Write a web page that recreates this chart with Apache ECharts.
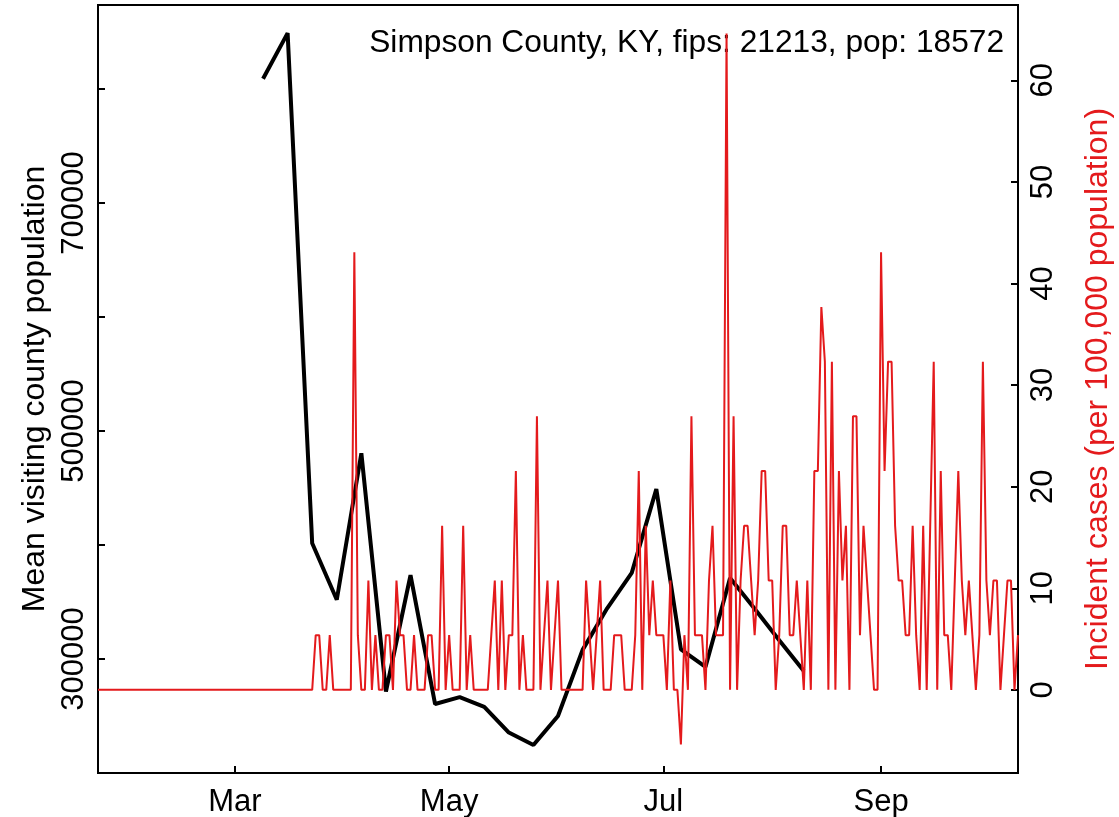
<!DOCTYPE html>
<html>
<head>
<meta charset="utf-8">
<script src="https://cdn.jsdelivr.net/npm/echarts@6/dist/echarts.min.js"></script>
<style>
html,body{margin:0;padding:0;background:#fff;}
#c{width:1119px;height:817px;}
</style>
</head>
<body>
<div id="c"></div>
<script>
// ---- data ----
const titleText = 'Simpson County, KY, fips: 21213, pop: 18572';
const countyPop = 18572;
const seriesStart = '2020-01-22';

// weekly mean visiting county population (black line)
const weekDates = ['2020-03-09','2020-03-16','2020-03-23','2020-03-30','2020-04-06','2020-04-13',
  '2020-04-20','2020-04-27','2020-05-04','2020-05-11','2020-05-18','2020-05-25','2020-06-01',
  '2020-06-08','2020-06-15','2020-06-22','2020-06-29','2020-07-06','2020-07-13','2020-07-20',
  '2020-07-27','2020-08-03','2020-08-10'];
const visitingPop = [809000, 849000, 401500, 352000, 480500, 271500, 373500, 260500, 266500,
  258000, 235500, 224500, 250000, 308000, 344500, 375500, 449000, 308500, 293000, 371000,
  344000, 316500, 289500];

// daily incident cases (counts), one per day from seriesStart
const dailyCases = [
  0,0,0,0,0,0,0,0,0,0,
  0,0,0,0,0,0,0,0,0,0,
  0,0,0,0,0,0,0,0,0,0,
  0,0,0,0,0,0,0,0,0,0,
  0,0,0,0,0,0,0,0,0,0,
  0,0,0,0,0,0,0,0,0,0,
  0,0,1,1,0,0,1,0,0,0,
  0,0,0,8,1,0,0,2,0,1,
  0,0,1,1,0,2,1,1,0,0,
  1,0,0,0,1,1,0,0,3,0,
  1,0,0,0,3,0,1,0,0,0,
  0,0,1,2,0,2,0,1,1,4,
  0,1,0,0,0,5,0,1,2,0,
  1,2,0,0,0,0,0,0,0,2,
  1,0,1,2,0,0,0,1,1,1,
  0,0,0,1,4,0,3,1,2,1,
  1,1,0,2,0,0,-1,1,0,5,
  1,1,1,0,2,3,1,1,1,12,
  0,5,0,2,3,3,2,1,2,4,
  4,2,2,0,1,3,3,1,1,2,
  1,0,2,0,4,4,7,6,0,6,
  0,4,2,3,0,5,5,1,3,2,
  1,0,0,8,4,6,6,3,2,2,
  1,1,3,1,0,3,0,3,6,0,
  4,1,1,0,2,4,2,1,2,1,
  0,1,6,2,1,2,2,0,1,2,
  2,0,1
];

const xTickDates = ['2020-03-01','2020-05-01','2020-07-01','2020-09-01'];
const xTickLabels = ['Mar','May','Jul','Sep'];
const leftTicks = [300000, 400000, 500000, 600000, 700000, 800000];
const leftLabels = [300000, 500000, 700000];
const rightTicks = [0, 10, 20, 30, 40, 50, 60];

// ---- build ----
const DAY = 86400000;
const t0 = Date.parse(seriesStart + 'T00:00:00Z');
const dayIndex = s => Math.round((Date.parse(s + 'T00:00:00Z') - t0) / DAY);

const blackData = weekDates.map((d, i) => [dayIndex(d), visitingPop[i]]);
const redData = dailyCases.map((c, i) => [i, c * 100000 / countyPop]);
const xTickPos = xTickDates.map(dayIndex);
const xLabelMap = {};
xTickPos.forEach((p, i) => { xLabelMap[p] = xTickLabels[i]; });

const FONT = "'Liberation Sans', Arial, Helvetica, sans-serif";
const FS = 31;
const FS_NAME = 32;

const chart = echarts.init(document.getElementById('c'), null, {renderer: 'canvas'});
chart.setOption({
  animation: false,
  backgroundColor: '#fff',
  grid: {left: 98, right: 101, top: 5, bottom: 44, show: true, borderColor: '#000', borderWidth: 2,
    containLabel: false, outerBoundsMode: 'none'},
  xAxis: {
    type: 'value', min: 0, max: dailyCases.length - 1,
    axisLine: {show: false, onZero: false},
    splitLine: {show: false},
    axisTick: {show: true, inside: true, length: 7, lineStyle: {color: '#000', width: 2}, customValues: xTickPos},
    axisLabel: {customValues: xTickPos, formatter: v => xLabelMap[Math.round(v)] || '',
      fontSize: FS, fontFamily: FONT, color: '#000', margin: 14}
  },
  yAxis: [
    {
      type: 'value', position: 'left', min: 200000, max: 873700,
      axisLine: {show: false, onZero: false}, splitLine: {show: false},
      axisTick: {show: true, inside: true, length: 7, lineStyle: {color: '#000', width: 2}, customValues: leftTicks},
      axisLabel: {customValues: leftLabels, rotate: 90, fontSize: FS, fontFamily: FONT, color: '#000', margin: 8,
        formatter: v => String(v)},
      name: 'Mean visiting county population', nameLocation: 'middle', nameRotate: 90, nameGap: 47,
      nameTextStyle: {fontSize: FS_NAME, fontFamily: FONT, color: '#000'}
    },
    {
      type: 'value', position: 'right', min: -8.184, max: 67.414,
      axisLine: {show: false, onZero: false}, splitLine: {show: false},
      axisTick: {show: true, inside: true, length: 7, lineStyle: {color: '#000', width: 2}, customValues: rightTicks},
      axisLabel: {customValues: rightTicks, rotate: 90, fontSize: FS, fontFamily: FONT, color: '#000', margin: 10,
        formatter: v => String(v)},
      name: 'Incident cases (per 100,000 population)', nameLocation: 'middle', nameRotate: 90, nameGap: 64,
      nameTextStyle: {fontSize: FS_NAME, fontFamily: FONT, color: '#e41a1c'}
    }
  ],
  graphic: [{
    type: 'text', right: 1119 - 1004, top: 27,
    style: {text: titleText, fontSize: 31.7, fontFamily: FONT, fill: '#000'}
  }],
  series: [
    {type: 'line', name: 'visiting', yAxisIndex: 0, data: blackData, showSymbol: false, symbol: 'none',
      lineStyle: {color: '#000', width: 4}, z: 2},
    {type: 'line', name: 'cases', yAxisIndex: 1, data: redData, showSymbol: false, symbol: 'none',
      lineStyle: {color: '#e41a1c', width: 2}, z: 3}
  ]
});
</script>
</body>
</html>
